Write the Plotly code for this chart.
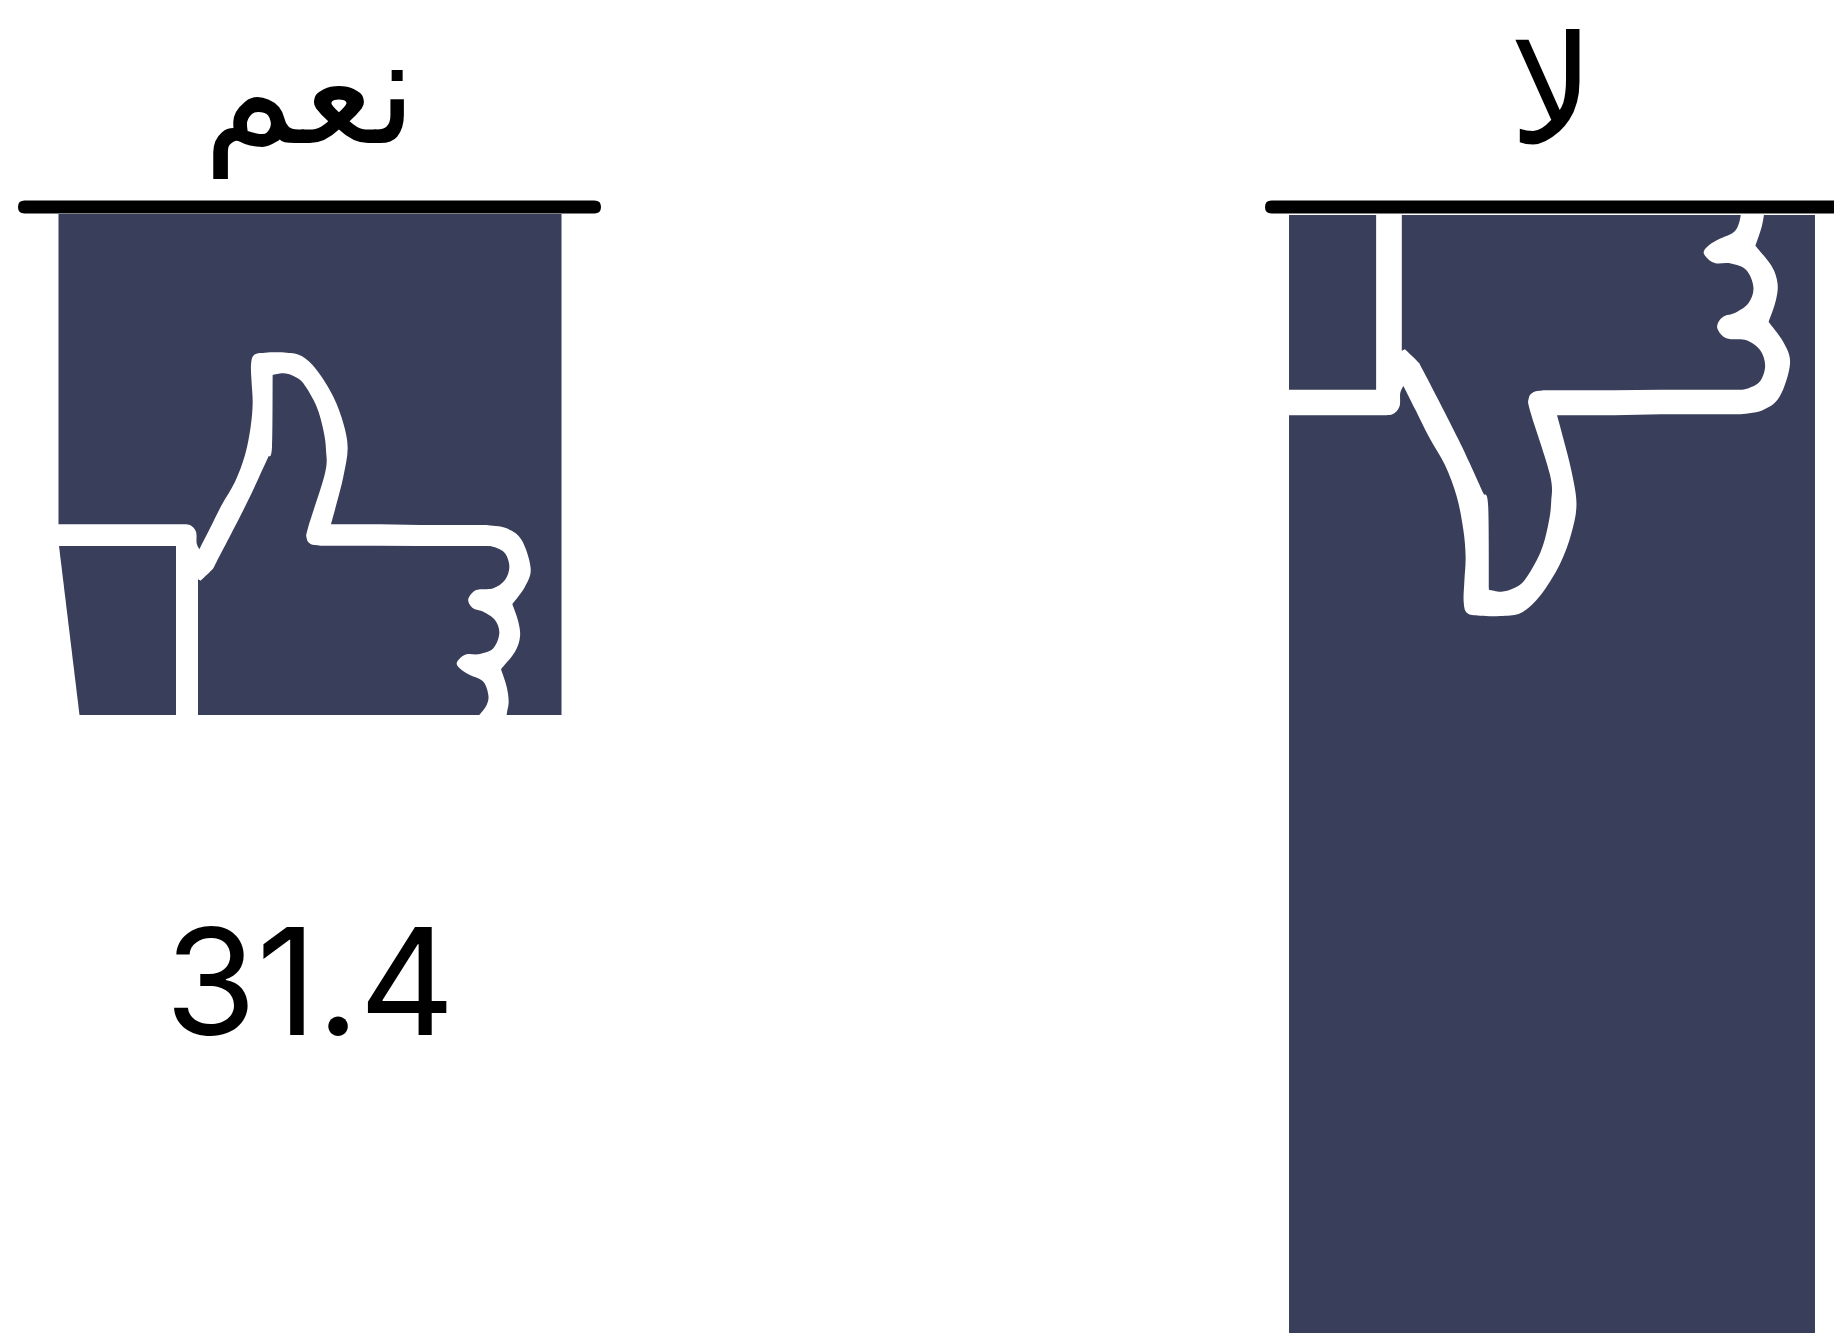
import plotly.graph_objects as go

W, H = 1834, 1333
categories = ["نعم", "لا"]
values = [31.4, 68.6]
value_labels = ["31.4", "68.6"]
value_colors = ["#000000", "#ffffff"]
bar_widths = [0.405, 0.4235]
BAR = "#393e5a"

TOP = 214
PX_PER_UNIT = 501 / 31.4
PX_PER_UNIT_RIGHT = 16.35
CAT_UNIT = 1242
LEFT_CENTER = 310
LABEL_Y_VALUE = (998 - TOP) / PX_PER_UNIT

def a(*pts):
    return [(180 + u / 3, 340 + v / 3) for u, v in pts]

def b(*pts):
    return [(420 + u / 3, 510 + v / 3) for u, v in pts]

hand_runs = [
    [(40, 524.3), (180, 524.3)],
    a((0, 553), (30, 555), (48, 575), (50, 610), (58, 628)),
    a((58, 628), (90, 565), (125, 495), (165, 425), (195, 345), (212, 260), (218, 190), (215, 130),
      (213, 75), (222, 45), (255, 38), (320, 38), (365, 48), (410, 90), (460, 170), (490, 250),
      (503, 325), (490, 410), (470, 490), (453, 553)),
    a((453, 553), (600, 553)),
    b((0, 45), (200, 45)),
    b((200, 45), (260, 55), (305, 90), (332, 175), (315, 230), (277, 282)),
    b((277, 282), (295, 335), (300, 380), (285, 425), (243, 478)),
    b((243, 478), (260, 530), (266, 575), (260, 615), (255, 680)),
    b((255, 680), (170, 680)),
    b((170, 680), (178, 615)),
    b((178, 615), (200, 585), (205, 555), (190, 515), (150, 495), (125, 480), (110, 462), (120, 445),
      (140, 433), (180, 432), (220, 415), (238, 370), (225, 330), (190, 305), (165, 298), (150, 285),
      (145, 266), (160, 245), (180, 238), (220, 235), (255, 210), (268, 170), (255, 130), (225, 112),
      (205, 108)),
    b((205, 108), (0, 108)),
    a((600, 617), (420, 617)),
    a((420, 617), (392, 612), (380, 595), (385, 560), (435, 400), (438, 330), (430, 270), (410, 200),
      (370, 130), (340, 108), (310, 100), (278, 105)),
    a((278, 105), (276, 320), (265, 350)),
    a((265, 350), (200, 490), (110, 665), (95, 690), (62, 722)),
    a((62, 722), (54, 718)),
    [(198, 579.3), (198, 745)],
    [(198, 745), (176, 745)],
    [(176, 745), (176, 546)],
    [(176, 546), (40, 546)],
    [(40, 546), (40, 524.3)],
]
sliver = [(40, 546), (59, 546), (79.5, 715), (79.5, 745), (40, 745)]

def up(p):
    return p

def down(p):
    x, y = p
    return (1388.5 + (x - 186.6) * 1.167, 414.6 - (y - 524.8) * 1.169)

def pt(p):
    return f"{p[0] / W:.5f},{1 - (p[1] - TOP) / (H - TOP):.5f}"

def smooth_path(runs, tf):
    out = None
    for run in runs:
        pts = [tf(p) for p in run]
        if out is None:
            out = "M" + pt(pts[0])
        else:
            out += " L" + pt(pts[0])
        for i in range(len(pts) - 1):
            p0 = pts[max(i - 1, 0)]
            p1 = pts[i]
            p2 = pts[i + 1]
            p3 = pts[min(i + 2, len(pts) - 1)]
            c1 = (p1[0] + (p2[0] - p0[0]) / 6, p1[1] + (p2[1] - p0[1]) / 6)
            c2 = (p2[0] - (p3[0] - p1[0]) / 6, p2[1] - (p3[1] - p1[1]) / 6)
            out += f" C{pt(c1)} {pt(c2)} {pt(p2)}"
    return out + " Z"

def poly_path(points, tf):
    return "M" + " L".join(pt(tf(p)) for p in points) + " Z"

def rule(x0, x1, yc=207, h=13):
    r = h / 2
    return ("M" + pt((x0 + r, yc - r)) + " L" + pt((x1 - r, yc - r)) +
            " Q" + pt((x1, yc - r)) + " " + pt((x1, yc)) +
            " Q" + pt((x1, yc + r)) + " " + pt((x1 - r, yc + r)) +
            " L" + pt((x0 + r, yc + r)) +
            " Q" + pt((x0, yc + r)) + " " + pt((x0, yc)) +
            " Q" + pt((x0, yc - r)) + " " + pt((x0 + r, yc - r)) + " Z")

def shape(path, color):
    return dict(type="path", xref="paper", yref="paper", path=path,
                fillcolor=color, line=dict(width=0), layer="above")

shapes = [
    shape(smooth_path(hand_runs, up), "#ffffff"),
    shape(poly_path(sliver, up), "#ffffff"),
    shape(smooth_path(hand_runs, down), "#ffffff"),
    shape(rule(18, 601), "#000000"),
    shape(rule(1265, 1860), "#000000"),
]

fig = go.Figure()
fig.add_trace(go.Bar(x=categories[:1], y=values[:1], width=bar_widths[:1], yaxis="y",
                     marker=dict(color=BAR, line=dict(width=0)), hoverinfo="skip"))
fig.add_trace(go.Bar(x=categories[1:], y=values[1:], width=bar_widths[1:], yaxis="y2",
                     marker=dict(color=BAR, line=dict(width=0)), hoverinfo="skip"))
fig.add_trace(go.Scatter(x=categories, y=[LABEL_Y_VALUE] * 2, mode="text", text=value_labels,
                         textposition="middle center",
                         textfont=dict(family="Inter", size=148, color=value_colors),
                         hoverinfo="skip"))
fig.update_layout(
    width=W, height=H, showlegend=False, shapes=shapes, barmode="overlay",
    margin=dict(l=0, r=0, t=TOP, b=0, pad=0, autoexpand=False),
    paper_bgcolor="#ffffff", plot_bgcolor="#ffffff",
    xaxis=dict(type="category", side="top", categoryorder="array", categoryarray=categories,
               range=[-LEFT_CENTER / CAT_UNIT, (W - LEFT_CENTER) / CAT_UNIT],
               showgrid=False, zeroline=False, showline=False, ticks="", automargin=False,
               tickfont=dict(family="DejaVu Sans", size=150, color="#000000"),
               ticklabelstandoff=40),
    yaxis=dict(range=[(H - TOP) / PX_PER_UNIT, 0], visible=False, automargin=False),
    yaxis2=dict(range=[(H - TOP - 1) / PX_PER_UNIT_RIGHT, -1 / PX_PER_UNIT_RIGHT], visible=False,
                overlaying="y", side="left", automargin=False),
)
fig.write_html("out.html", config=dict(displayModeBar=False),
               post_script="document.body.style.margin='0';")
